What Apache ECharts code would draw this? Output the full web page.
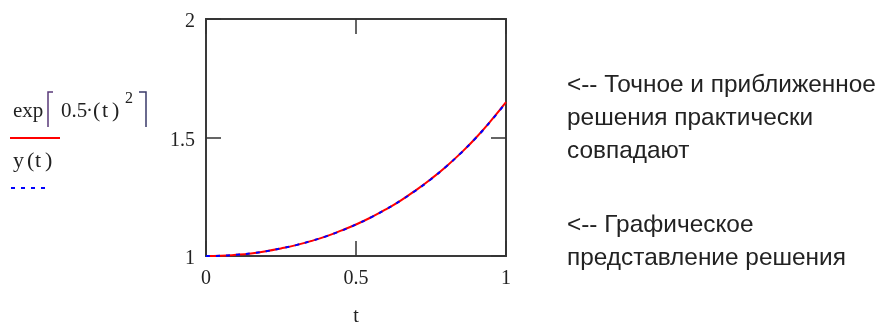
<!DOCTYPE html>
<html>
<head>
<meta charset="utf-8">
<script src="https://cdn.jsdelivr.net/npm/echarts@6/dist/echarts.min.js"></script>
<style>
html,body{margin:0;padding:0;background:#fff;}
#chart{width:889px;height:327px;}
</style>
</head>
<body>
<div id="chart"></div>
<script>
// t values (x axis)
var tValues = [0, 0.05, 0.1, 0.15, 0.2, 0.25, 0.3, 0.35, 0.4, 0.45, 0.5, 0.55, 0.6, 0.65, 0.7, 0.75, 0.8, 0.85, 0.9, 0.95, 1];
// exact solution exp(0.5*t^2)
var exactValues = [1.000, 1.001, 1.005, 1.011, 1.020, 1.032, 1.046, 1.063, 1.083, 1.107, 1.133, 1.163, 1.197, 1.235, 1.278, 1.325, 1.377, 1.435, 1.499, 1.571, 1.649];
// approximate solution y(t), practically coincides with the exact one
var approxValues = [1.000, 1.001, 1.005, 1.011, 1.020, 1.032, 1.046, 1.063, 1.083, 1.106, 1.133, 1.163, 1.197, 1.235, 1.277, 1.324, 1.377, 1.435, 1.499, 1.570, 1.648];
var xTicks = [0, 0.5, 1];
var yTicks = [1, 1.5, 2];
var notes = ['<-- Точное и приближенное', 'решения практически', 'совпадают', '<-- Графическое', 'представление решения'];

function pairs(xs, ys) { return xs.map(function (x, i) { return [x, ys[i]]; }); }

var chart = echarts.init(document.getElementById('chart'), null, {renderer: 'canvas'});
var serif = '"Liberation Serif", "Times New Roman", serif';
var sans = '"Liberation Sans", Arial, sans-serif';
var axisCol = '#333';

function fmt(v) { return String(v); }
function fmtY(v) { return '{a|' + v + '}'; }

var tickStyle = {show: true, inside: true, length: 15, lineStyle: {color: axisCol, width: 1.5}};
var noLine = {show: false, onZero: false};

function t(x, y, s, size) {
  return {type: 'text', x: x, y: y, style: {text: s, font: (size || 21) + 'px ' + serif, fill: '#222', verticalAlign: 'middle'}};
}
function note(y, s) {
  return {type: 'text', x: 567, y: y, style: {text: s, font: '24.4px ' + sans, fill: '#222', verticalAlign: 'middle'}};
}

var option = {
  animation: false,
  backgroundColor: '#fff',
  grid: {left: 206, top: 19, width: 300, height: 237, outerBoundsMode: 'none', containLabel: false,
         show: true, borderColor: '#3a3a3a', borderWidth: 2, backgroundColor: 'transparent'},
  xAxis: [
    {type: 'value', min: xTicks[0], max: xTicks[xTicks.length - 1], interval: xTicks[1] - xTicks[0], position: 'bottom',
     axisLine: noLine, axisTick: tickStyle, splitLine: {show: false},
     axisLabel: {fontFamily: serif, fontSize: 20, color: '#222', margin: 13, formatter: fmt},
     name: 't', nameLocation: 'middle', nameGap: 51, nameTextStyle: {fontFamily: serif, fontSize: 20, color: '#222'}},
    {type: 'value', min: xTicks[0], max: xTicks[xTicks.length - 1], interval: xTicks[1] - xTicks[0], position: 'top',
     axisLine: noLine, axisTick: tickStyle, splitLine: {show: false}, axisLabel: {show: false}}
  ],
  yAxis: [
    {type: 'value', min: yTicks[0], max: yTicks[yTicks.length - 1], interval: yTicks[1] - yTicks[0], position: 'left',
     axisLine: noLine, axisTick: tickStyle, splitLine: {show: false},
     axisLabel: {color: '#222', margin: 11, formatter: fmtY,
                 rich: {a: {fontFamily: serif, fontSize: 20, color: '#222', padding: [6, 0, 0, 0]}}}},
    {type: 'value', min: yTicks[0], max: yTicks[yTicks.length - 1], interval: yTicks[1] - yTicks[0], position: 'right',
     axisLine: noLine, axisTick: tickStyle, splitLine: {show: false}, axisLabel: {show: false}}
  ],
  series: [
    {name: 'exp(0.5·t²)', type: 'line', xAxisIndex: 0, yAxisIndex: 0, data: pairs(tValues, exactValues),
     showSymbol: false, smooth: true, lineStyle: {color: '#ff0000', width: 2}, z: 2},
    {name: 'y(t)', type: 'line', xAxisIndex: 0, yAxisIndex: 0, data: pairs(tValues, approxValues),
     showSymbol: false, smooth: true, lineStyle: {color: '#0000ff', width: 2, type: [4, 6]}, z: 3}
  ],
  graphic: [
    // legend: exp[0.5·(t)^2]
    t(13, 111, 'exp', 21),
    {type: 'polyline', shape: {points: [[48, 127], [48, 92], [53, 92]]}, style: {stroke: '#5a3a7a', lineWidth: 1.5, fill: null}},
    t(61, 111, '0.5', 21),
    t(86, 111, '·', 21),
    t(93, 111, '(', 22),
    t(102, 111, 't', 22),
    t(112, 111, ')', 22),
    t(125, 99, '2', 16),
    {type: 'polyline', shape: {points: [[139, 92], [146, 92], [146, 127]]}, style: {stroke: '#3a3a6a', lineWidth: 1.5, fill: null}},
    {type: 'line', shape: {x1: 10, y1: 138, x2: 60, y2: 138}, style: {stroke: '#ff0000', lineWidth: 2}},
    // legend: y(t)
    t(13, 161, 'y', 22),
    t(27, 161, '(', 22),
    t(35, 161, 't', 22),
    t(45, 161, ')', 22),
    {type: 'line', shape: {x1: 11, y1: 188, x2: 51, y2: 188}, style: {stroke: '#0000ff', lineWidth: 2, lineDash: [4, 6]}},
    // notes on the right
    note(85, notes[0]),
    note(118, notes[1]),
    note(151, notes[2]),
    note(225, notes[3]),
    note(258, notes[4])
  ]
};
chart.setOption(option);
</script>
</body>
</html>
